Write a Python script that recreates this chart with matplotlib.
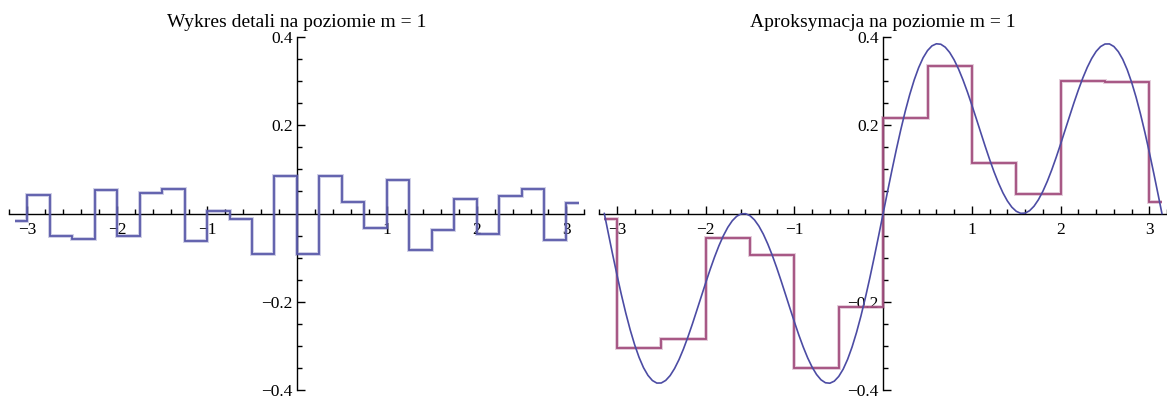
import numpy as np
import matplotlib
matplotlib.use("Agg")
import matplotlib.pyplot as plt

plt.rcParams['font.family'] = ['Liberation Serif', 'DejaVu Serif']

# detale na poziomie m = 1 (przedziały co 0.25)
detail_edges = [-np.pi, -3.0, -2.75, -2.5, -2.25, -2.0, -1.75, -1.5, -1.25, -1.0, -0.75, -0.5, -0.25,
                0.0, 0.25, 0.5, 0.75, 1.0, 1.25, 1.5, 1.75, 2.0, 2.25, 2.5, 2.75, 3.0, np.pi]
detail_vals = [-0.017, 0.043, -0.050, -0.058, 0.054, -0.052, 0.047, 0.055, -0.062, 0.006, -0.013, -0.092, 0.085,
               -0.092, 0.085, 0.027, -0.032, 0.077, -0.082, -0.038, 0.033, -0.046, 0.039, 0.055, -0.060, 0.024]

# aproksymacja na poziomie m = 1 (przedziały co 0.5)
approx_edges = [-np.pi, -3.0, -2.5, -2.0, -1.5, -1.0, -0.5, 0.0, 0.5, 1.0, 1.5, 2.0, 2.5, 3.0, np.pi]
approx_vals = [-0.012, -0.305, -0.285, -0.055, -0.095, -0.350, -0.213,
               0.216, 0.335, 0.115, 0.044, 0.301, 0.298, 0.025]

curve_x = [-np.pi] + [round(v, 2) for v in np.arange(-3.1, 3.101, 0.05)] + [np.pi]
curve_y_neg = [0.0, -0.0415, -0.0907, -0.1383, -0.1835, -0.2255, -0.2637, -0.2974, -0.3261, -0.3494,
               -0.3668, -0.3785, -0.3843, -0.3841, -0.3783, -0.3673, -0.3513, -0.3311, -0.3071, -0.2800,
               -0.2508, -0.2199, -0.1887, -0.1575, -0.1273, -0.0989, -0.0730, -0.0503, -0.0313, -0.0165,
               -0.0063, -0.0009, -0.0004, -0.0050, -0.0144, -0.0285, -0.0468, -0.0690, -0.0943, -0.1224,
               -0.1523, -0.1834, -0.2148, -0.2456, -0.2753, -0.3027, -0.3273, -0.3482, -0.3649, -0.3769,
               -0.3836, -0.3846, -0.3799, -0.3692, -0.3527, -0.3304, -0.3026, -0.2697, -0.2323, -0.1908,
               -0.1461, -0.0988, -0.0499]
curve_y_pos = [0.0, 0.0499, 0.0988, 0.1461, 0.1908, 0.2323, 0.2697, 0.3026, 0.3304, 0.3527,
               0.3692, 0.3799, 0.3846, 0.3836, 0.3769, 0.3649, 0.3482, 0.3273, 0.3027, 0.2753,
               0.2456, 0.2148, 0.1834, 0.1523, 0.1224, 0.0943, 0.0690, 0.0468, 0.0285, 0.0144,
               0.0050, 0.0004, 0.0009, 0.0063, 0.0165, 0.0313, 0.0503, 0.0730, 0.0989, 0.1273,
               0.1575, 0.1887, 0.2199, 0.2508, 0.2800, 0.3071, 0.3311, 0.3513, 0.3673, 0.3783,
               0.3841, 0.3843, 0.3785, 0.3668, 0.3494, 0.3261, 0.2974, 0.2637, 0.2255, 0.1835,
               0.1383, 0.0907, 0.0415, 0.0]
curve_y = curve_y_neg + curve_y_pos

blue = '#5a5aaa'
red = '#a24e7e'

fig = plt.figure(figsize=(11.67, 4.0), dpi=100)
ax1 = fig.add_axes([0.0081, 0.025, 0.4927, 0.8825])
ax2 = fig.add_axes([0.5134, 0.025, 0.4867, 0.8825])


def mathematica_axes(ax, xlim):
    ax.set_xlim(*xlim)
    ax.set_ylim(-0.4, 0.4)
    for s in ['top', 'right']:
        ax.spines[s].set_visible(False)
    ax.spines['left'].set_position(('data', 0))
    ax.spines['bottom'].set_position(('data', 0))
    for s in ['left', 'bottom']:
        ax.spines[s].set_linewidth(1.0)
        ax.spines[s].set_zorder(1)
    ax.set_xticks([-3, -2, -1, 1, 2, 3])
    ax.set_xticklabels(['\u22123', '\u22122', '\u22121', '1', '2', '3'])
    ax.set_xticks([t for t in np.arange(-3.2, 3.21, 0.2) if abs(t - round(t)) > 0.01], minor=True)
    ax.set_yticks([-0.4, -0.2, 0.2, 0.4])
    ax.set_yticklabels(['\u22120.4', '\u22120.2', '0.2', '0.4'])
    ax.set_yticks([t for t in np.arange(-0.35, 0.36, 0.05) if abs(t / 0.2 - round(t / 0.2)) > 0.01], minor=True)
    ax.tick_params(axis='both', which='both', direction='in', labelsize=12.5, width=1.0)
    ax.tick_params(axis='x', which='both', pad=6)
    ax.tick_params(axis='y', which='both', pad=3)
    ax.tick_params(axis='both', which='major', length=6)
    ax.tick_params(axis='both', which='minor', length=3.5)
    ax.patch.set_visible(False)


mathematica_axes(ax1, (-3.15, 3.15))
# miękka poświata jak w Mathematice
ax1.stairs(detail_vals, detail_edges, baseline=None, color=blue, lw=2.8, alpha=0.3, zorder=3)
ax1.stairs(detail_vals, detail_edges, baseline=None, color=blue, lw=1.3, zorder=3)
ax1.set_title('Wykres detali na poziomie m = 1', fontsize=14, pad=7)

mathematica_axes(ax2, (-3.2, 3.18))
ax2.stairs(approx_vals, approx_edges, baseline=None, color=red, lw=2.8, alpha=0.3, zorder=3)
ax2.stairs(approx_vals, approx_edges, baseline=None, color=red, lw=1.3, zorder=3)
ax2.plot(curve_x, curve_y, color='#4c4ca4', lw=1.2, zorder=4)
ax2.set_title('Aproksymacja na poziomie m = 1', fontsize=14, pad=7)

fig.savefig('out.png', dpi=100)
